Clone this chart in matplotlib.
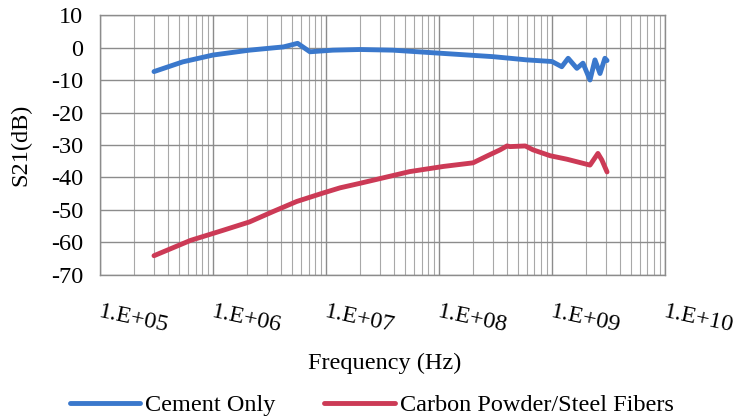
import numpy as np
import matplotlib
matplotlib.use("Agg")
import matplotlib.pyplot as plt
from matplotlib.ticker import LogLocator, NullFormatter

plt.rcParams['font.family'] = ['Liberation Serif', 'DejaVu Serif']
plt.rcParams['axes.unicode_minus'] = False

# Cement Only (frequency in Hz, S21 in dB)
cement_f = [3.0e5, 5.4e5, 1.0e6, 2.1e6, 4.2e6, 5.6e6, 7.2e6, 1.15e7, 2.0e7, 3.9e7,
            1.08e8, 3.0e8, 6.0e8, 1.0e9, 1.22e9, 1.39e9, 1.66e9, 1.88e9, 2.17e9,
            2.4e9, 2.66e9, 2.94e9, 3.07e9]
cement_db = [-7.4, -4.4, -2.3, -0.8, 0.2, 1.3, -1.3, -0.8, -0.6, -0.8,
             -1.8, -2.8, -3.8, -4.3, -5.9, -3.3, -6.4, -4.8, -10.0,
             -3.8, -8.0, -3.3, -4.0]

# Carbon Powder/Steel Fibers
carbon_f = [3.0e5, 6.3e5, 1.22e6, 2.1e6, 3.4e6, 5.5e6, 9.4e6, 1.33e7, 2.0e7, 5.5e7,
            1.1e8, 2.0e8, 2.66e8, 3.47e8, 4.0e8, 4.25e8, 5.8e8, 6.8e8, 9.6e8,
            1.36e9, 2.17e9, 2.55e9, 2.76e9, 3.07e9]
carbon_db = [-64.1, -59.4, -56.3, -53.7, -50.5, -47.4, -44.8, -43.2, -41.8, -38.2,
             -36.6, -35.5, -33.4, -31.5, -30.3, -30.5, -30.3, -31.5, -33.3,
             -34.4, -36.2, -32.6, -34.6, -38.3]

xtick_vals = [1e5, 1e6, 1e7, 1e8, 1e9, 1e10]
xtick_labels = ['1.E+05', '1.E+06', '1.E+07', '1.E+08', '1.E+09', '1.E+10']

fs = 17.5

fig = plt.figure(figsize=(7.36, 4.19), dpi=100)
ax = fig.add_axes([0.136, 0.344, 0.7675, 0.62])

ax.plot(cement_f, cement_db, color='#3a78cc', lw=3.5, label='Cement Only', solid_capstyle='round')
ax.plot(carbon_f, carbon_db, color='#cc3a56', lw=3.5, label='Carbon Powder/Steel Fibers', solid_capstyle='round')

ax.set_xscale('log')
ax.set_xlim(1e5, 1e10)
ax.set_ylim(-70, 10)
ax.set_yticks(range(-70, 11, 10))
ax.xaxis.set_minor_locator(LogLocator(base=10, subs=np.arange(2, 10), numticks=20))
ax.xaxis.set_minor_formatter(NullFormatter())
ax.set_xticks(xtick_vals)
ax.set_xticklabels([])

ax.grid(True, which='major', color='#8c8c8c', lw=1.0)
ax.grid(True, which='minor', axis='x', color='#a8a8a8', lw=0.8)
ax.set_axisbelow(True)
for s in ax.spines.values():
    s.set_color('#8c8c8c')
    s.set_linewidth(1.0)
ax.tick_params(which='both', length=0)
ax.tick_params(axis='y', labelsize=fs, pad=12)

# slanted tick labels, left end sitting just right of each decade
for v, lab in zip(xtick_vals, xtick_labels):
    ax.annotate(lab, xy=(v, 0), xycoords=('data', 'axes fraction'),
                xytext=(1, -19), textcoords='offset points',
                ha='left', va='top', rotation=-12, rotation_mode='anchor',
                fontsize=fs, annotation_clip=False)

ax.set_ylabel('S21(dB)', fontsize=fs, labelpad=14)
fig.text(0.522, 0.132, 'Frequency (Hz)', ha='center', va='center', fontsize=fs)

fig.legend(loc='center', bbox_to_anchor=(0.505, 0.033), ncol=2, frameon=False,
           fontsize=fs, handlelength=2.9, handletextpad=0.2, columnspacing=2.0)

fig.savefig('out.png', dpi=100)
